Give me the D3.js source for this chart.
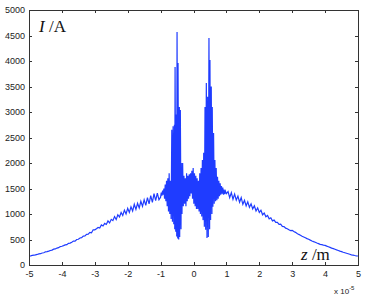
<!DOCTYPE html>
<html>
<head>
<meta charset="utf-8">
<script src="https://cdn.jsdelivr.net/npm/d3@7"></script>
<style>
  body { margin:0; background:#fff; }
  .axis text { font-family: "Liberation Sans", Arial, sans-serif; font-size:9px; fill:#222; }
  .axis path, .axis line { stroke:#333; shape-rendering:crispEdges; }
</style>
</head>
<body>
<div id="chart"></div>
<script>
// z in units of 1e-5 m, current I in A
var leftZ = [-5.00,-4.95,-4.90,-4.85,-4.80,-4.75,-4.70,-4.65,-4.60,-4.55,-4.50,-4.45,-4.40,-4.35,-4.30,-4.25,-4.20,-4.15,-4.10,-4.05,
  -4.00,-3.95,-3.90,-3.85,-3.80,-3.75,-3.70,-3.65,-3.60,-3.55,-3.50,-3.45,-3.40,-3.35,-3.30,-3.25,-3.20,-3.15,-3.10,-3.05,
  -3.00,-2.95,-2.90,-2.85,-2.80,-2.75,-2.70,-2.65,-2.60,-2.55,-2.50,-2.45,-2.40,-2.35,-2.30,-2.25,-2.20,-2.15,-2.10,-2.05,
  -2.00,-1.95,-1.90,-1.85,-1.80,-1.75,-1.70,-1.65,-1.60,-1.55,-1.50,-1.45,-1.40,-1.35,-1.30,-1.25,-1.20,-1.15,-1.10,-1.05];
var leftI = [175,180,188,192,200,207,218,222,236,240,258,262,272,285,292,310,315,332,340,362,
  368,380,395,400,425,430,448,470,468,500,505,530,535,565,570,600,605,640,630,690,
  690,710,735,725,785,765,815,795,865,825,895,870,950,890,985,940,1030,970,1075,1000,
  1110,1030,1140,1060,1190,1090,1210,1120,1250,1150,1280,1170,1320,1200,1360,1230,1400,1260,1410,1280];

var centerZ = [-1.00,-0.98,-0.96,-0.94,-0.92,-0.90,-0.88,-0.86,-0.84,-0.82,-0.80,-0.78,-0.76,-0.74,-0.72,-0.70,-0.68,-0.66,-0.64,-0.62,
  -0.60,-0.58,-0.57,-0.56,-0.54,-0.52,-0.51,-0.50,-0.48,-0.47,-0.45,-0.43,-0.42,-0.40,-0.38,-0.37,-0.35,-0.33,-0.31,-0.29,
  -0.27,-0.25,-0.23,-0.21,-0.19,-0.17,-0.15,-0.13,-0.11,-0.09,-0.07,-0.05,-0.03,-0.01,0.01,0.03,0.05,0.07,0.09,0.11,
  0.13,0.15,0.17,0.19,0.21,0.23,0.25,0.27,0.29,0.31,0.33,0.35,0.37,0.39,0.41,0.43,0.45,0.47,0.49,0.50,
  0.52,0.54,0.56,0.57,0.59,0.61,0.63,0.65,0.67,0.69,0.71,0.73,0.75,0.77,0.79,0.81,0.83,0.85,0.87,0.89,
  0.91,0.93,0.95,0.97,1.00];
var centerI = [1330,1420,1360,1460,1380,1500,1300,1580,1250,1650,1150,1700,1050,1800,1000,1650,900,2650,850,2720,
  800,2750,700,3880,650,2950,560,4570,520,3960,500,3100,550,3040,700,2000,1000,2000,1150,1750,
  1200,1700,1150,1800,1250,1750,1300,1780,1350,1800,1400,1850,1300,1900,1200,1800,1150,1750,1100,1700,
  1100,1650,1050,1800,1000,1900,950,2060,880,2200,750,3100,690,3570,530,3300,550,4450,700,4020,
  880,3500,1000,3100,1140,2590,1200,2060,1250,1900,1270,1730,1300,1650,1350,1600,1380,1550,1400,1520,
  1380,1480,1390,1450,1400];

var rightZ = [1.05,1.10,1.15,1.20,1.25,1.30,1.35,1.40,1.45,1.50,1.55,1.60,1.65,1.70,1.75,1.80,1.85,1.90,1.95,2.00,
  2.05,2.10,2.15,2.20,2.25,2.30,2.35,2.40,2.45,2.50,2.55,2.60,2.65,2.70,2.75,2.80,2.85,2.90,2.95,3.00,
  3.05,3.10,3.15,3.20,3.25,3.30,3.35,3.40,3.45,3.50,3.55,3.60,3.65,3.70,3.75,3.80,3.85,3.90,3.95,4.00,
  4.05,4.10,4.15,4.20,4.25,4.30,4.35,4.40,4.45,4.50,4.55,4.60,4.65,4.70,4.75,4.80,4.85,4.90,4.95,5.00];
var rightI = [1440,1320,1420,1290,1390,1270,1350,1230,1320,1190,1270,1160,1240,1130,1200,1100,1160,1060,1120,1030,
  1075,985,1020,945,970,905,925,865,880,835,835,795,800,758,752,722,712,690,676,680,
  655,640,618,600,585,565,550,535,518,505,488,472,458,445,430,418,405,398,390,385,
  370,358,345,332,320,308,296,285,272,262,250,240,230,220,210,200,193,186,180,176];

var xTicks = [-5,-4,-3,-2,-1,0,1,2,3,4,5];
var yTicks = [0,500,1000,1500,2000,2500,3000,3500,4000,4500,5000];

var margin = { left:29, right:8, top:10, bottom:33 };
var width = 366 - margin.left - margin.right;
var height = 298 - margin.top - margin.bottom;

var svg = d3.select("#chart").append("svg")
    .attr("width", 366)
    .attr("height", 298);

var g = svg.append("g")
    .attr("transform", "translate(" + margin.left + "," + margin.top + ")");

var x = d3.scaleLinear().domain([-5, 5]).range([0, width]);
var y = d3.scaleLinear().domain([0, 5000]).range([height, 0]);

var data = [];
leftZ.forEach(function(z, i){ data.push({z:z, v:leftI[i]}); });
centerZ.forEach(function(z, i){ data.push({z:z, v:centerI[i]}); });
rightZ.forEach(function(z, i){ data.push({z:z, v:rightI[i]}); });

var line = d3.line()
    .x(function(d){ return x(d.z); })
    .y(function(d){ return y(d.v); });

g.append("path")
    .datum(data)
    .attr("fill", "none")
    .attr("stroke", "#1f3cff")
    .attr("stroke-width", 1.2)
    .attr("d", line);

var fmt = function(d){ return String(d); };

g.append("g").attr("class", "x axis")
    .attr("transform", "translate(0," + height + ")")
    .call(d3.axisBottom(x).tickValues(xTicks).tickSize(-3).tickPadding(6).tickFormat(fmt));
g.append("g").attr("class", "x axis")
    .call(d3.axisTop(x).tickValues(xTicks).tickSize(-3).tickFormat(""));
g.append("g").attr("class", "y axis")
    .call(d3.axisLeft(y).tickValues(yTicks).tickSize(-3).tickPadding(4).tickFormat(fmt));
g.append("g").attr("class", "y axis")
    .attr("transform", "translate(" + width + ",0)")
    .call(d3.axisRight(y).tickValues(yTicks).tickSize(-3).tickFormat(""));

// labels
var ylab = svg.append("text")
    .attr("x", 39).attr("y", 32)
    .style("font-family", "'Liberation Serif', 'Times New Roman', serif")
    .style("font-size", "17px").attr("fill", "#111");
ylab.append("tspan").style("font-style", "italic").text("I");
ylab.append("tspan").text(" /A");

var xlab = svg.append("text")
    .attr("x", 301).attr("y", 260)
    .style("font-family", "'Liberation Serif', 'Times New Roman', serif")
    .style("font-size", "17px").attr("fill", "#111");
xlab.append("tspan").style("font-style", "italic").text("z");
xlab.append("tspan").text(" /m");

var ex = svg.append("text")
    .attr("x", 334).attr("y", 294)
    .style("font-family", "'Liberation Sans', Arial, sans-serif")
    .style("font-size", "8px").attr("fill", "#222");
ex.append("tspan").text("x 10");
ex.append("tspan").attr("dy", -4).style("font-size", "6px").text("-5");
</script>
</body>
</html>
